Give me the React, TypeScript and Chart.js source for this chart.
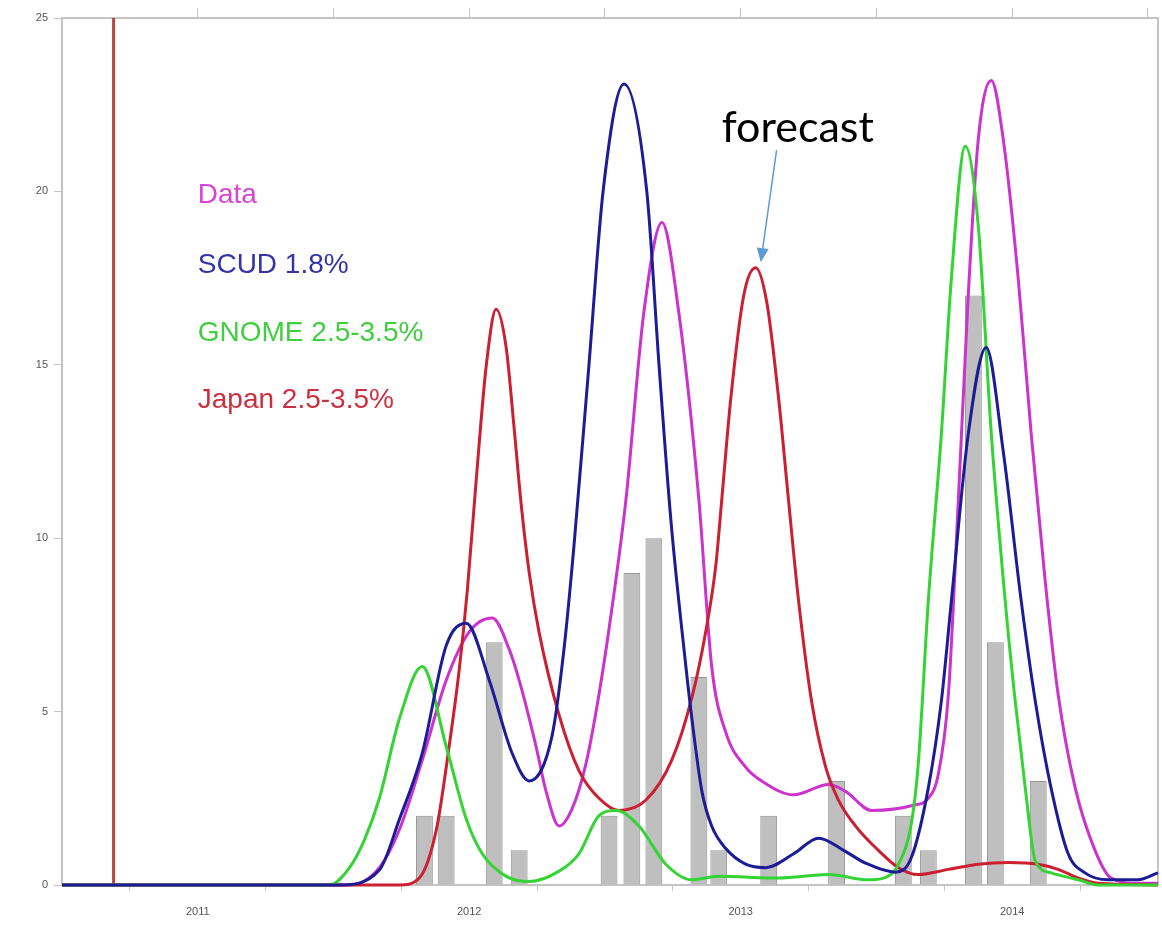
import { useEffect, useRef } from 'react';
import { Chart, registerables } from 'chart.js';

Chart.register(...registerables);

// ---- axis / tick data ----
const xMin = 2010.5;
const xMax = 2014.537;
const halfYearTicks = [2011, 2011.5, 2012, 2012.5, 2013, 2013.5, 2014, 2014.5];
const yMin = 0;
const yMax = 25;
const yStep = 5;

// ---- series: Data (magenta) ----
const dataX = [2010.5, 2011.559, 2011.669, 2011.743, 2011.827, 2011.915, 2012.0, 2012.085, 2012.147, 2012.184, 2012.246, 2012.283, 2012.331, 2012.379, 2012.43, 2012.478, 2012.526, 2012.577, 2012.643, 2012.71, 2012.772, 2012.846, 2012.893, 2012.945, 2013.018, 2013.077, 2013.195, 2013.324, 2013.386, 2013.482, 2013.636, 2013.691, 2013.728, 2013.765, 2013.801, 2013.838, 2013.875, 2013.923, 2013.967, 2014.022, 2014.07, 2014.121, 2014.169, 2014.232, 2014.305, 2014.364, 2014.463, 2014.537];
const dataY = [0, 0, 0.5, 1.6, 3.6, 5.9, 7.3, 7.7, 6.8, 5.9, 4.0, 2.7, 1.7, 2.2, 3.5, 5.5, 8, 11.1, 16.5, 19.1, 16.5, 11.1, 6.3, 4.4, 3.4, 3.0, 2.6, 2.9, 2.7, 2.15, 2.3, 2.5, 3.2, 5.5, 11, 17, 21.5, 23.2, 21.5, 17.5, 13, 8.8, 5.5, 2.8, 1.0, 0.2, 0.05, 0.05];

// ---- series: SCUD 1.8% (navy) ----
const scudX = [2010.5, 2011.522, 2011.669, 2011.743, 2011.827, 2011.915, 2011.989, 2012.074, 2012.158, 2012.221, 2012.305, 2012.349, 2012.386, 2012.441, 2012.493, 2012.57, 2012.654, 2012.699, 2012.743, 2012.798, 2012.82, 2012.857, 2012.893, 2012.945, 2013.018, 2013.092, 2013.195, 2013.287, 2013.379, 2013.46, 2013.57, 2013.629, 2013.691, 2013.739, 2013.776, 2013.838, 2013.904, 2013.967, 2014.033, 2014.085, 2014.143, 2014.206, 2014.268, 2014.353, 2014.463, 2014.537];
const scudY = [0, 0, 0.43, 1.9, 3.8, 6.9, 7.55, 5.9, 3.8, 3.0, 4.3, 6.8, 9.8, 15, 20, 23.1, 20, 15, 10.5, 6.3, 4.8, 2.7, 1.7, 1.05, 0.6, 0.5, 0.9, 1.35, 1.0, 0.63, 0.37, 0.8, 2.8, 5.3, 8.2, 13, 15.5, 12.5, 8.2, 5.3, 2.8, 0.9, 0.35, 0.15, 0.15, 0.35];

// ---- series: GNOME 2.5-3.5% (green) ----
const gnomeX = [2010.5, 2011.485, 2011.559, 2011.614, 2011.669, 2011.743, 2011.827, 2011.915, 2011.989, 2012.048, 2012.136, 2012.221, 2012.331, 2012.404, 2012.478, 2012.54, 2012.625, 2012.724, 2012.82, 2012.919, 2013.14, 2013.324, 2013.471, 2013.526, 2013.581, 2013.629, 2013.654, 2013.691, 2013.739, 2013.776, 2013.827, 2013.875, 2013.923, 2013.974, 2014.011, 2014.048, 2014.085, 2014.143, 2014.243, 2014.316, 2014.537];
const gnomeY = [0, 0, 0.5, 1.3, 2.5, 4.8, 6.3, 4.0, 1.9, 0.9, 0.25, 0.1, 0.4, 0.9, 2.0, 2.15, 1.7, 0.6, 0.15, 0.25, 0.2, 0.3, 0.15, 0.2, 0.6, 1.8, 3.5, 8.2, 13, 17.5, 21.3, 19, 13, 8.2, 5.3, 2.8, 0.7, 0.35, 0.15, 0, 0];

// ---- series: Japan 2.5-3.5% (red) ----
const japanX = [2010.5, 2011.743, 2011.816, 2011.879, 2011.926, 2011.963, 2011.993, 2012.029, 2012.063, 2012.099, 2012.136, 2012.165, 2012.191, 2012.221, 2012.257, 2012.331, 2012.404, 2012.478, 2012.551, 2012.651, 2012.746, 2012.82, 2012.871, 2012.908, 2012.93, 2012.963, 2013.011, 2013.055, 2013.096, 2013.14, 2013.176, 2013.213, 2013.261, 2013.313, 2013.36, 2013.423, 2013.507, 2013.581, 2013.654, 2013.765, 2013.875, 2013.985, 2014.096, 2014.169, 2014.243, 2014.316, 2014.537];
const japanY = [0, 0, 0.2, 1.6, 4.0, 6.2, 8.5, 12, 15, 16.6, 15.5, 13.2, 11, 9, 7.3, 4.9, 3.3, 2.5, 2.15, 2.45, 3.6, 5.4, 7.3, 9.2, 11.1, 14, 17, 17.8, 16.8, 14, 11.1, 8.2, 5.3, 3.4, 2.45, 1.7, 1.0, 0.5, 0.3, 0.45, 0.6, 0.65, 0.6, 0.45, 0.2, 0.05, 0];

// ---- gray bars (observed counts) ----
const barX = [2011.835, 2011.915, 2012.092, 2012.184, 2012.515, 2012.599, 2012.68, 2012.846, 2012.919, 2013.103, 2013.353, 2013.599, 2013.691, 2013.857, 2013.938, 2014.096];
const barY = [2, 2, 7, 1, 2, 9, 10, 6, 1, 2, 3, 2, 1, 17, 7, 3];

// ---- vertical marker ----
const markerX = 2010.69;

// ---- in-plot labels ----
const labelTexts = ['Data', 'SCUD 1.8%', 'GNOME 2.5-3.5%', 'Japan 2.5-3.5%'];
const labelColors = ['#d646d6', '#3434a8', '#3fcf3f', '#cc3040'];
const labelX = 2011.0;
const labelY = [19.88, 17.87, 15.9, 13.98];

const forecastText = 'forecast';
const forecastPos = { x: 2013.21, y: 21.42 };
const arrowFrom = { x: 2013.132, y: 21.19 };
const arrowTo = { x: 2013.074, y: 17.96 };

const zip = (xs: number[], ys: number[]) => xs.map((x, i) => ({ x, y: ys[i] }));

const annotPlugin = {
  id: 'annot',
  beforeDatasetsDraw(chart: any) {
    const { ctx, chartArea } = chart;
    ctx.save();
    ctx.strokeStyle = '#c4c4c4';
    ctx.lineWidth = 2;
    ctx.strokeRect(chartArea.left, chartArea.top, chartArea.right - chartArea.left, chartArea.bottom - chartArea.top);
    ctx.restore();
  },
  afterDatasetsDraw(chart: any) {
    const { ctx } = chart;
    const x = chart.scales.x;
    const y = chart.scales.y;
    ctx.save();
    ctx.font = '28px "Liberation Sans", Arial, sans-serif';
    ctx.textBaseline = 'middle';
    ctx.textAlign = 'left';
    labelTexts.forEach((t, i) => {
      ctx.fillStyle = labelColors[i];
      ctx.fillText(t, x.getPixelForValue(labelX), y.getPixelForValue(labelY[i]));
    });
    ctx.font = '43px Lato, "Open Sans", sans-serif';
    ctx.fillStyle = '#000';
    ctx.textAlign = 'center';
    ctx.textBaseline = 'alphabetic';
    ctx.fillText(forecastText, x.getPixelForValue(forecastPos.x), y.getPixelForValue(forecastPos.y));
    const x1 = x.getPixelForValue(arrowFrom.x);
    const y1 = y.getPixelForValue(arrowFrom.y);
    const x2 = x.getPixelForValue(arrowTo.x);
    const y2 = y.getPixelForValue(arrowTo.y);
    const ang = Math.atan2(y2 - y1, x2 - x1);
    const headLen = 14;
    const headW = 6;
    const bx = x2 - headLen * Math.cos(ang);
    const by = y2 - headLen * Math.sin(ang);
    ctx.strokeStyle = '#5b9bd5';
    ctx.fillStyle = '#5b9bd5';
    ctx.lineWidth = 1.5;
    ctx.beginPath();
    ctx.moveTo(x1, y1);
    ctx.lineTo(bx, by);
    ctx.stroke();
    ctx.beginPath();
    ctx.moveTo(x2, y2);
    ctx.lineTo(bx + headW * Math.sin(ang), by - headW * Math.cos(ang));
    ctx.lineTo(bx - headW * Math.sin(ang), by + headW * Math.cos(ang));
    ctx.closePath();
    ctx.fill();
    ctx.restore();
  },
};

export default function App() {
  const ref = useRef<HTMLCanvasElement | null>(null);
  useEffect(() => {
    if (!ref.current) return;
    Chart.defaults.font.family = '"Liberation Sans", Arial, sans-serif';
    const lineDs = (label: string, xs: number[], ys: number[], color: string, order: number) => ({
      type: 'line' as const,
      label,
      data: zip(xs, ys),
      borderColor: color,
      backgroundColor: color,
      borderWidth: 3,
      pointRadius: 0,
      cubicInterpolationMode: 'monotone' as const,
      fill: false,
      order,
      clip: 4,
    });
    const chart = new Chart(ref.current, {
      type: 'line',
      data: {
        datasets: [
          {
            type: 'bar',
            label: 'bars',
            data: zip(barX, barY),
            backgroundColor: 'rgba(170,170,170,0.75)',
            borderColor: 'rgba(140,140,140,0.9)',
            borderWidth: 1,
            barPercentage: 0.85,
            categoryPercentage: 1,
            order: 10,
          } as any,
          {
            type: 'line',
            label: 'marker',
            data: [{ x: markerX, y: yMin }, { x: markerX, y: yMax }],
            borderColor: '#b5473f',
            borderWidth: 3,
            pointRadius: 0,
            order: 9,
            clip: 4,
          } as any,
          lineDs('Data', dataX, dataY, '#cc33cc', 4),
          lineDs('Japan 2.5-3.5%', japanX, japanY, '#cc1f32', 3),
          lineDs('GNOME 2.5-3.5%', gnomeX, gnomeY, '#33d433', 2),
          lineDs('SCUD 1.8%', scudX, scudY, '#1c1c96', 1),
        ],
      },
      options: {
        animation: false,
        responsive: true,
        maintainAspectRatio: false,
        layout: { padding: { top: 0, right: 2, left: 0, bottom: 0 } },
        plugins: { legend: { display: false }, tooltip: { enabled: false } },
        scales: {
          x: {
            type: 'linear',
            position: 'bottom',
            min: xMin,
            max: xMax,
            offset: false,
            afterBuildTicks: (s: any) => { s.ticks = halfYearTicks.map((v) => ({ value: v })); },
            afterFit: (s: any) => { s.height = 40; },
            ticks: {
              autoSkip: false,
              maxRotation: 0,
              padding: 14,
              color: '#555',
              font: { size: 11 },
              callback: (v: any) => (Number.isInteger(v) ? String(v) : ''),
            },
            grid: { drawOnChartArea: false, drawTicks: true, tickLength: 6, color: '#c4c4c4' },
            border: { display: false },
          },
          x2: {
            type: 'linear',
            position: 'top',
            min: xMin,
            max: xMax,
            afterBuildTicks: (s: any) => { s.ticks = halfYearTicks.map((v) => ({ value: v })); },
            afterFit: (s: any) => { s.height = 18; },
            ticks: { callback: () => '', padding: 0 },
            grid: { drawOnChartArea: false, drawTicks: true, tickLength: 10, color: '#c4c4c4' },
            border: { display: false },
          },
          y: {
            type: 'linear',
            min: yMin,
            max: yMax,
            afterFit: (s: any) => { s.width = 62; },
            ticks: { stepSize: yStep, color: '#555', font: { size: 11 }, padding: 6 },
            grid: { drawOnChartArea: false, drawTicks: true, tickLength: 8, color: '#c4c4c4' },
            border: { display: false },
          },
        },
      },
      plugins: [annotPlugin],
    } as any);
    return () => chart.destroy();
  }, []);
  return (
    <div style={{ position: 'absolute', left: 0, top: 0, width: 1162, height: 925, background: '#fff' }}>
      <canvas ref={ref} />
    </div>
  );
}
